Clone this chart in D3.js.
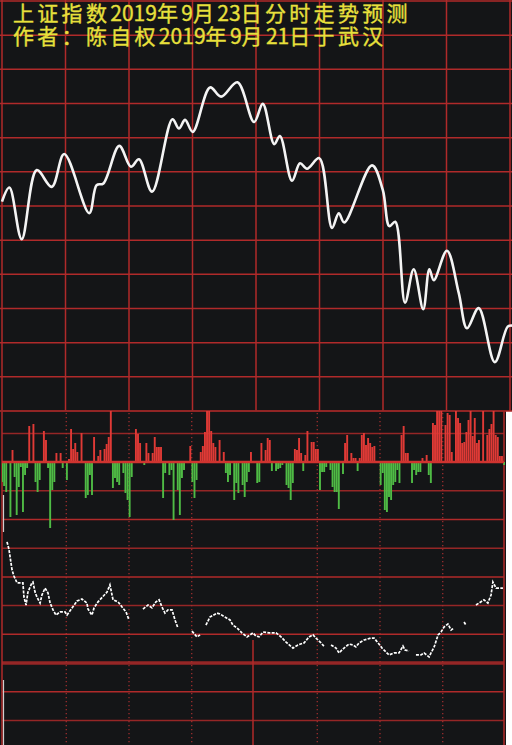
<!DOCTYPE html>
<html><head><meta charset="utf-8">
<script src="https://cdnjs.cloudflare.com/ajax/libs/d3/7.8.5/d3.min.js"></script>
<style>html,body{margin:0;padding:0;background:#fff;}svg{display:block}</style>
</head><body><svg id="c" width="512" height="745"></svg>
<script>
// ---------- DATA ----------
const titleLines = ["上证指数2019年9月23日分时走势预测", "作者：陈自权2019年9月21日于武汉"];

// forecast index curve (minute of session, index level)
const priceMinutes = [0,3.5,9.3,16.4,23.5,29.4,41.2,44.7,47.9,55.4,60.9,64.7,70.9,80.5,83.6,86.5,90.1,98.3,103.5,111.2,119.1,123.2,128.6,131.3,137,140.8,144.1,149.9,155.9,159.1,161.7,174.8,179.9,183,185.8,190.4,194.5,199,201.9,204,210.2,215.8,219.7,225.2,232.8,238.9,241];
const priceValues = [3001.3,3005.4,2990.3,3010.5,3005.6,3015.2,2997.9,3006.1,3006.6,3017.6,3011.5,3013.7,3004.2,3025.4,3022.7,3025.2,3021.7,3034.7,3032.0,3036.2,3024.6,3029.9,3018.1,3020.5,3007.4,3012.5,3010.9,3014.0,2993.6,2997.9,2995.2,3011.9,3004.7,2994.1,2995.4,2971.7,2981.5,2969.8,2981.5,2978.3,2986.9,2974.5,2964.2,2970.1,2954.3,2964.7,2965.0];
const priceTicks = [2940,2950,2960,2970,2980,2990,3000,3010,3020,3030,3040,3050,3060];
const timeTicks = [0,30,60,90,120,150,180,210,240];

// buy/sell bars (minute, value: + red, - green)
const flowMinutes = [0,1,2,4,5,6,7,8,9,10,11,12,13,15,16,17,18,20,21,22,23,24,25,26,28,29,31,32,33,34,35,36,38,40,41,42,43,44,46,47,49,50,51,52,53,54,55,56,58,59,60,61,62,64,65,66,68,69,70,72,73,74,75,76,77,78,80,81,82,84,85,86,87,90,91,92,93,95,96,97,98,99,100,101,102,104,106,107,108,109,111,112,113,115,116,117,118,119,122,123,124,126,127,128,129,131,132,133,134,136,137,138,139,140,141,142,143,144,145,146,148,149,150,151,152,153,154,155,157,158,159,160,161,163,164,165,167,168,169,170,171,172,173,174,175,176,177,178,181,182,183,184,185,186,187,188,189,190,191,192,193,194,196,197,198,199,200,201,203,204,205,206,207,208,209,210,212,213,214,215,217,218,219,220,221,222,223,224,225,226,227,228,230,232,233,234,235,236,237,238,239,240];
const flowValues = [-40,-48,-60,-110,24,-30,-106,-50,-10,-100,-26,-12,72,76,-40,-60,-36,62,44,-12,-132,-56,-40,18,18,-12,-36,6,66,26,38,20,58,-72,-66,-26,-66,50,12,24,26,36,50,110,-52,-32,-40,-46,-22,-62,-76,-110,-30,66,56,38,-6,38,18,18,50,30,30,30,-72,-22,-26,-16,-116,-56,-106,-32,-16,32,-40,-72,-36,20,32,60,110,110,62,38,30,44,20,-22,-40,-26,-76,-42,-62,-46,-70,-40,-20,20,-42,-40,38,24,48,44,-18,-18,-14,-12,-6,-46,-52,-76,-42,26,24,48,18,-18,14,62,40,40,26,26,-56,-20,-20,-10,-16,-50,-60,-60,-94,-24,38,54,18,8,8,-18,8,54,58,34,48,38,30,32,-46,-22,-96,-100,-70,-76,-46,-40,-16,-42,54,72,18,18,-42,-16,-26,-20,-20,8,14,-26,-42,78,74,110,110,110,74,98,94,20,110,88,78,38,40,60,84,110,52,88,38,44,110,54,66,76,110,54,50,12,12,-6];

// lower white line (minute, ratio); null = gap
const ratioMinutes = [2.4,3.3,4.8,5.7,7.2,10.0,10.5,11.5,12.4,14.3,14.8,15.8,16.7,18.2,19.1,20.6,22.0,23.0,24.4,25.8,27.7,30.1,31.1,33.5,35.9,38.2,40.6,41.1,43.0,44.0,45.9,50.2,51.6,53.1,55.5,57.4,59.3,60.7,64,67.4,69.8,71.7,73.6,75.1,76.5,77.9,79.4,81.3,82.7,84.1,87,90.8,93.2,94.7,96,97.5,99.4,102.8,104.2,106.6,109.0,110.4,112.4,114.7,117.1,118.6,120.0,121.4,122.9,124.8,127.7,131.0,133.4,135.8,139.1,141.5,144.4,146.8,148.7,150.1,152.5,153.9,155.5,157.3,159.7,161.1,163.5,165.9,167.8,169.2,170.7,173.1,176.4,177.9,179.8,181.7,183.6,185.0,187.4,189.8,191.7,192.7,194.6,196,197.9,200.3,201.8,204.2,205.1,206.6,208.5,209.9,211.3,213.2,214.7,216.1,218,220.9,221.8,224,226.6,228.1,230.4,232.3,233.8,234.7,236.2,239.5];
const ratioValues = [4.22,3.97,3.24,3.03,2.79,2.79,2.30,2.02,2.47,2.79,2.82,2.47,2.30,2.09,2.37,2.61,2.44,2.09,1.85,1.67,1.78,1.78,1.67,1.92,2.16,2.23,2.09,1.88,1.67,1.92,2.13,2.47,2.72,2.20,2.13,1.95,1.78,1.50,null,1.88,2.02,1.92,2.13,2.20,1.95,1.74,1.85,1.85,1.50,1.22,null,1.11,0.91,0.98,null,1.32,1.60,1.74,1.71,1.60,1.50,1.32,1.22,1.05,0.91,0.98,1.05,0.94,0.91,1.08,1.05,1.05,0.91,0.73,0.52,0.63,0.70,0.91,0.98,0.87,0.70,0.59,null,0.63,0.52,0.35,0.52,0.66,0.63,0.56,0.70,0.80,0.87,0.87,0.70,0.52,0.38,0.28,0.35,0.35,0.59,0.45,0.42,null,0.28,0.28,0.35,0.21,0.35,0.56,0.98,1.08,1.25,1.36,1.15,1.22,null,1.43,1.32,null,2.02,2.09,2.20,2.09,2.37,2.82,2.61,2.61];
const ratioGrid = [-2,-1,0,1,2,3,4,5,6,7,8];

// ---------- DRAW ----------
const BG = "#141517", GRID = "#b02a2a", GRID2 = "#952626";
const svg = d3.select("#c");
svg.append("rect").attr("x",0).attr("y",0).attr("width",512).attr("height",745).attr("fill","#ffffff");
svg.append("rect").attr("x",0).attr("y",0).attr("width",512).attr("height",411).attr("fill",BG);
svg.append("rect").attr("x",0).attr("y",411).attr("width",506).attr("height",334).attr("fill",BG);

// top panel
const px = d3.scaleLinear().domain([0,240]).range([2,510]);
const py = d3.scaleLinear().domain([2940,3060]).range([411,1]);

const gTop = svg.append("g");
gTop.selectAll("line.h").data(priceTicks).join("line")
  .attr("x1",0).attr("x2",512).attr("y1",d=>py(d)).attr("y2",d=>py(d))
  .attr("stroke",GRID).attr("stroke-width",1.5);
gTop.selectAll("line.v").data(timeTicks).join("line")
  .attr("x1",d=>px(d)).attr("x2",d=>px(d)).attr("y1",0).attr("y2",411)
  .attr("stroke",GRID).attr("stroke-width",1.5);

gTop.append("clipPath").attr("id","topclip").append("rect").attr("x",0).attr("y",0).attr("width",512).attr("height",411);
const priceData = priceMinutes.map((m,i)=>({m, v: priceValues[i]}));
gTop.append("path").datum(priceData)
  .attr("clip-path","url(#topclip)")
  .attr("d", d3.line().x(d=>px(d.m)).y(d=>py(d.v)).curve(d3.curveCatmullRom.alpha(0.5)))
  .attr("fill","none").attr("stroke","#f4f4f4").attr("stroke-width",2.6).attr("stroke-linejoin","round");

// lower panels
const lx = d3.scaleLinear().domain([0,240]).range([2,504]);
const ry = d3.scaleLinear().domain([0,5]).range([663,519.5]);
const fy = d3.scaleLinear().domain([-140,110]).range([532,407]);

const gLow = svg.append("g");
gLow.selectAll("line.h").data(ratioGrid).join("line")
  .attr("x1",2).attr("x2",504).attr("y1",d=>ry(d)).attr("y2",d=>ry(d))
  .attr("stroke",(d,i)=> i%2 ? GRID : GRID2)
  .attr("stroke-width",d=> d===0 ? 3.5 : 1.5);
gLow.selectAll("line.vd").data(timeTicks.filter(t=>t>0 && t<240 && t!==120)).join("line")
  .attr("x1",d=>lx(d)+1.5).attr("x2",d=>lx(d)+1.5).attr("y1",413).attr("y2",745)
  .attr("stroke","#a83030").attr("stroke-width",1.2).attr("stroke-dasharray","1.2,2.8");
gLow.append("line").attr("x1",lx(120)).attr("x2",lx(120)).attr("y1",640).attr("y2",745)
  .attr("stroke",GRID).attr("stroke-width",1.5);
[0,240].forEach(t=>{
  gLow.append("line").attr("x1",lx(t)).attr("x2",lx(t)).attr("y1",411).attr("y2",745)
    .attr("stroke",GRID).attr("stroke-width",1.5);
});
gLow.append("line").attr("x1",0).attr("x2",506).attr("y1",411).attr("y2",411).attr("stroke",GRID2).attr("stroke-width",1.5);
// thin light marks at the left edge
[[495,532],[680,745]].forEach(([a,b])=>{
  gLow.append("line").attr("x1",3.5).attr("x2",3.5).attr("y1",a).attr("y2",b)
    .attr("stroke","#cfcfcf").attr("stroke-width",1.2);
});

gLow.append("clipPath").attr("id","lowclip").append("rect").attr("x",2).attr("y",411).attr("width",503).attr("height",334);
const flowData = flowMinutes.map((m,i)=>({m, v: flowValues[i]}));
gLow.append("g").attr("clip-path","url(#lowclip)")
  .selectAll("rect").data(flowData).join("rect")
  .attr("x",d=>lx(d.m)-0.9).attr("width",1.9)
  .attr("y",d=>Math.min(fy(d.v),fy(0)))
  .attr("height",d=>Math.abs(fy(d.v)-fy(0)))
  .attr("fill",d=>d.v>0 ? "#e03a36" : "#4fbb45");
gLow.append("line").attr("x1",2).attr("x2",504).attr("y1",fy(0)).attr("y2",fy(0))
  .attr("stroke","#d03430").attr("stroke-width",2.5);

const ratioData = ratioMinutes.map((m,i)=>({m, v: ratioValues[i]}));
gLow.append("path").datum(ratioData)
  .attr("d", d3.line().defined(d=>d.v!==null).x(d=>lx(d.m)).y(d=>ry(d.v)))
  .attr("fill","none").attr("stroke","#ffffff").attr("stroke-width",1.7)
  .attr("stroke-dasharray","3,1.3");

// title: CJK at full pitch, digits at half pitch
svg.selectAll("text.t").data(titleLines).join("text")
  .attr("y",(d,i)=> i===0 ? 20.5 : 43.5)
  .attr("x", d=>{
    let x = 13; const xs = [];
    for (const ch of d) { xs.push(x.toFixed(1)); x += /[0-9]/.test(ch) ? 11.7 : 24.3; }
    return xs.join(" ");
  })
  .attr("font-family","'Noto Sans CJK SC', sans-serif").attr("font-size",21)
  .attr("fill","#e8e03c").attr("stroke","#e8e03c").attr("stroke-width",0.35)
  .text(d=>d);
</script></body></html>
